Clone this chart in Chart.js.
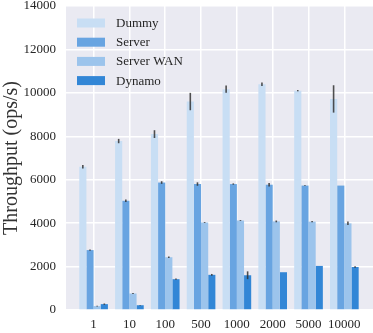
<!DOCTYPE html>
<html>
<head>
<meta charset="utf-8">
<script src="https://cdn.jsdelivr.net/npm/chart.js@4.4.0/dist/chart.umd.min.js"></script>
<style>
  html, body { margin: 0; padding: 0; background: #ffffff; }
  #wrap { width: 373px; height: 333px; }
</style>
</head>
<body>
<div id="wrap"><canvas id="grafico" width="373" height="333"></canvas></div>
<script>
var categorias = ['1', '10', '100', '500', '1000', '2000', '5000', '10000'];
var yTicks = [0, 2000, 4000, 6000, 8000, 10000, 12000, 14000];

var dummy = [6600, 7780, 8100, 9600, 10170, 10400, 10100, 9720];
var server = [2760, 5030, 5870, 5800, 5800, 5770, 5730, 5730];
var serverWAN = [180, 760, 2430, 4030, 4120, 4080, 4070, 3990];
var dynamo = [270, 220, 1420, 1620, 1600, 1740, 2030, 1980];

var erroDummy = [80, 100, 180, 400, 170, 80, 30, 630];
var erroServer = [30, 60, 60, 80, 30, 80, 20, 0];
var erroWAN = [20, 20, 30, 20, 20, 40, 30, 80];
var erroDynamo = [30, 15, 30, 40, 180, 0, 0, 30];

var fonte = '"Liberation Serif", "DejaVu Serif", serif';
var corTexto = '#262626';

function pontos(vals) {
    return vals.map(function (v, i) { return { x: i, y: v }; });
}

var dados = {
    datasets: [
        { label: 'Dummy', data: pontos(dummy), erros: erroDummy, backgroundColor: 'rgb(200,222,244)' },
        { label: 'Server', data: pontos(server), erros: erroServer, backgroundColor: 'rgb(104,164,225)' },
        { label: 'Server WAN', data: pontos(serverWAN), erros: erroWAN, backgroundColor: 'rgb(156,196,236)' },
        { label: 'Dynamo', data: pontos(dynamo), erros: erroDynamo, backgroundColor: 'rgb(50,134,214)' }
    ]
};

// fundo cinza estilo seaborn
var fundo = {
    id: 'fundo',
    beforeDraw: function (chart) {
        var a = chart.chartArea, ctx = chart.ctx;
        ctx.save();
        ctx.fillStyle = '#EAEAF2';
        ctx.fillRect(a.left, a.top, a.right - a.left, a.bottom - a.top);
        ctx.restore();
    }
};

// barras de erro
var barrasErro = {
    id: 'barrasErro',
    afterDatasetsDraw: function (chart) {
        var ctx = chart.ctx, y = chart.scales.y;
        ctx.save();
        ctx.strokeStyle = 'rgba(50,50,50,0.85)';
        ctx.lineWidth = 1.6;
        chart.data.datasets.forEach(function (ds, d) {
            var meta = chart.getDatasetMeta(d);
            meta.data.forEach(function (bar, i) {
                var e = ds.erros[i];
                if (!e) return;
                var v = ds.data[i].y;
                ctx.beginPath();
                ctx.moveTo(bar.x, y.getPixelForValue(v - e));
                ctx.lineTo(bar.x, y.getPixelForValue(v + e));
                ctx.stroke();
            });
        });
        ctx.restore();
    }
};

// legenda dentro do gráfico
var legenda = {
    id: 'legenda',
    afterDraw: function (chart) {
        var ctx = chart.ctx;
        ctx.save();
        ctx.font = '13px ' + fonte;
        ctx.textBaseline = 'middle';
        chart.data.datasets.forEach(function (ds, i) {
            var cy = 23 + i * 19.2;
            ctx.fillStyle = ds.backgroundColor;
            ctx.fillRect(77, cy - 4.5, 28, 9);
            ctx.fillStyle = corTexto;
            ctx.fillText(ds.label, 116, cy + 0.5);
        });
        ctx.restore();
    }
};

var opcoes = {
    responsive: false,
    animation: false,
    layout: { padding: { top: 6, right: 0, left: 0, bottom: 0 } },
    datasets: {
        bar: { barPercentage: 1, categoryPercentage: 0.8 }
    },
    scales: {
        x: {
            type: 'linear',
            offset: false,
            min: -0.77,
            max: 7.8,
            afterBuildTicks: function (scale) {
                scale.ticks = categorias.map(function (c, i) { return { value: i }; });
            },
            afterFit: function (scale) {
                scale.height = 23;
                scale.paddingLeft = 0;
                scale.paddingRight = 0;
            },
            ticks: {
                callback: function (v) { return categorias[v]; },
                font: { family: fonte, size: 13 },
                color: corTexto,
                padding: 7,
                maxRotation: 0,
                autoSkip: false
            },
            grid: { color: '#ffffff', lineWidth: 1.5, drawTicks: false, offset: false },
            border: { display: false }
        },
        y: {
            min: 0,
            max: 14000,
            afterBuildTicks: function (scale) {
                scale.ticks = yTicks.map(function (v) { return { value: v }; });
            },
            afterFit: function (scale) {
                scale.width = 66;
                scale.paddingTop = 0;
                scale.paddingBottom = 0;
            },
            ticks: {
                callback: function (v) { return String(v); },
                font: { family: fonte, size: 13 },
                color: corTexto,
                padding: 10
            },
            title: {
                display: true,
                text: 'Throughput (ops/s)',
                font: { family: fonte, size: 20 },
                color: '#333333',
                padding: 0
            },
            grid: { color: '#ffffff', lineWidth: 1.5, drawTicks: false },
            border: { display: false }
        }
    },
    plugins: {
        legend: { display: false },
        tooltip: { enabled: false }
    }
};

var grafico = new Chart(document.getElementById('grafico').getContext('2d'), {
    type: 'bar',
    data: dados,
    options: opcoes,
    plugins: [fundo, barrasErro, legenda]
});
</script>
</body>
</html>
